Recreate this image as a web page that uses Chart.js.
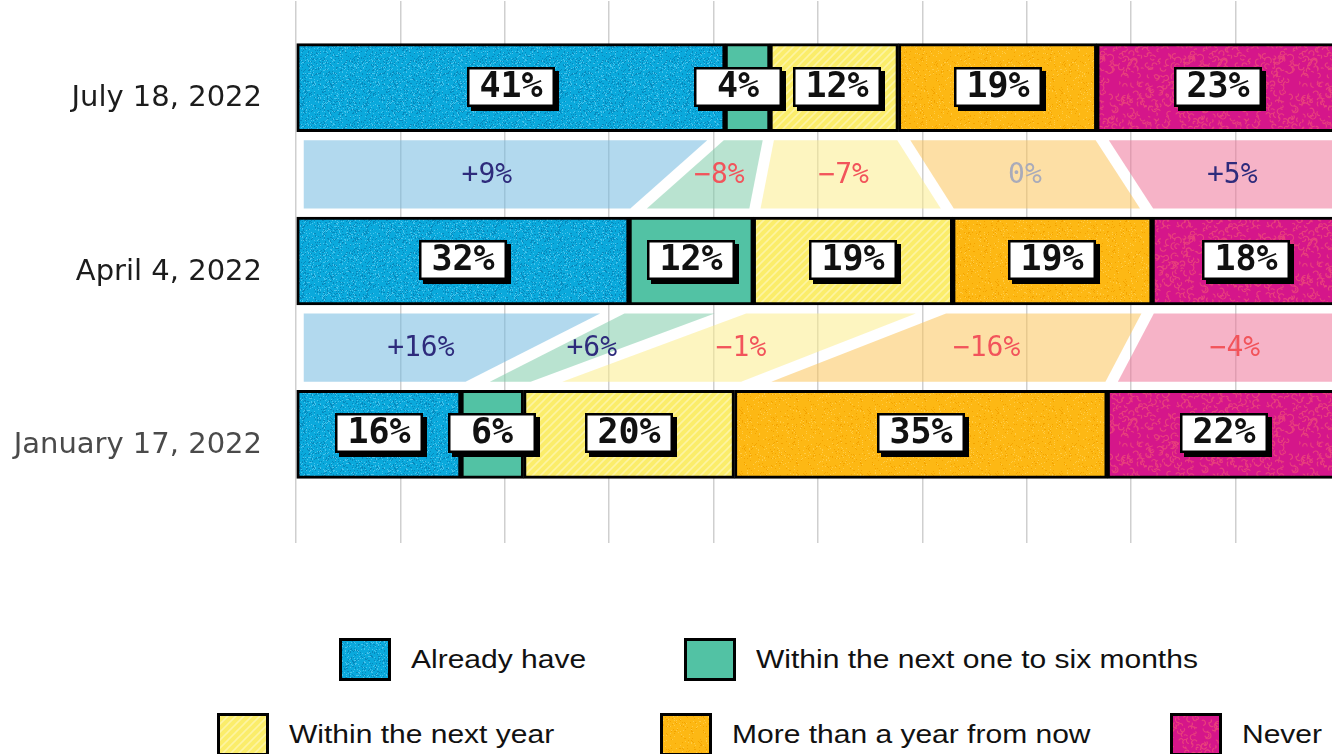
<!DOCTYPE html>
<html>
<head>
<meta charset="utf-8">
<script src="https://cdn.jsdelivr.net/npm/chart.js@4.4.1/dist/chart.umd.min.js"></script>
<style>
  html, body { margin: 0; padding: 0; background: #fff; }
  #wrap { position: relative; width: 1332px; height: 754px; overflow: hidden; }
  #chart { position: absolute; left: 0; top: 0; }
  .item { position: absolute; display: flex; align-items: center; }
  .sw { width: 46px; height: 37px; border: 3px solid #000; flex: none; }
  .txt {
    font-family: 'Liberation Sans', Arial, sans-serif; font-size: 25px; color: #111;
    margin-left: 20px; white-space: nowrap;
    transform: scaleX(1.2); transform-origin: left center;
  }
</style>
</head>
<body>
<div id="wrap">
  <canvas id="chart" width="1340" height="543" style="width:1340px;height:543px"></canvas>
  <div id="legend"></div>
</div>
<script>
// survey dates, top to bottom
const dates = ['July 18, 2022', 'April 4, 2022', 'January 17, 2022'];
const dateColors = ['#1c1c1c', '#1c1c1c', '#4a4a4a'];

const seriesNames = ['Already have', 'Within the next one to six months', 'Within the next year',
  'More than a year from now', 'Never'];

// share of respondents per date (bar lengths)
const alreadyHave = [41.1, 31.9, 15.8];
const oneToSixMonths = [4.3, 11.9, 6.0];
const nextYear = [12.3, 19.1, 20.2];
const moreThanAYear = [19.0, 19.1, 35.7];
const never = [23.3, 18.0, 22.3];

// printed labels in the boxes
const shownAlreadyHave = [41, 32, 16];
const shownOneToSixMonths = [4, 12, 6];
const shownNextYear = [12, 19, 20];
const shownMoreThanAYear = [19, 19, 35];
const shownNever = [23, 18, 22];

// changes between consecutive surveys, per answer
const changeJulyVsApril = [9, -8, -7, 0, 5];
const changeAprilVsJanuary = [16, 6, -1, -16, -4];

const xTicks = [0, 10, 20, 30, 40, 50, 60, 70, 80, 90, 100];

const seriesValues = [alreadyHave, oneToSixMonths, nextYear, moreThanAYear, never];
const seriesShown = [shownAlreadyHave, shownOneToSixMonths, shownNextYear, shownMoreThanAYear, shownNever];
const changes = [changeJulyVsApril, changeAprilVsJanuary];

const bandColors = ['rgba(115,186,224,0.55)', 'rgba(128,204,170,0.55)', 'rgba(251,237,140,0.55)',
  'rgba(251,197,91,0.55)', 'rgba(239,117,153,0.55)'];

// ---- textures
function rng(seed) {
  return function () {
    seed = seed + 0x6D2B79F5 | 0;
    let t = Math.imul(seed ^ seed >>> 15, 1 | seed);
    t = t + Math.imul(t ^ t >>> 7, 61 | t) ^ t;
    return ((t ^ t >>> 14) >>> 0) / 4294967296;
  };
}

function speckleTile(base, dots, seed) {
  const size = 64;
  const c = document.createElement('canvas');
  c.width = c.height = size;
  const g = c.getContext('2d');
  g.fillStyle = base;
  g.fillRect(0, 0, size, size);
  const r = rng(seed);
  dots.forEach(([color, n]) => {
    g.fillStyle = color;
    for (let i = 0; i < n; i++) g.fillRect(Math.floor(r() * size), Math.floor(r() * size), 1, 1);
  });
  return c;
}

function hatchTile(base, line) {
  const size = 8;
  const c = document.createElement('canvas');
  c.width = c.height = size;
  const g = c.getContext('2d');
  g.fillStyle = base;
  g.fillRect(0, 0, size, size);
  g.strokeStyle = line;
  g.lineWidth = 1.6;
  [[-2, 10, 10, -2], [-2, 2, 2, -2], [6, 10, 10, 6]].forEach(([a, b, cc, d]) => {
    g.beginPath(); g.moveTo(a, b); g.lineTo(cc, d); g.stroke();
  });
  return c;
}

function blobTile(base, line, seed) {
  const size = 90;
  const c = document.createElement('canvas');
  c.width = c.height = size;
  const g = c.getContext('2d');
  g.fillStyle = base;
  g.fillRect(0, 0, size, size);
  g.strokeStyle = line;
  g.lineWidth = 1.1;
  const r = rng(seed);
  for (let i = 0; i < 260; i++) {
    const x = r() * size, y = r() * size, rad = 1.2 + r() * 2.3;
    const a0 = r() * Math.PI * 2, a1 = a0 + 1.5 + r() * 3;
    for (const dx of [-size, 0, size]) for (const dy of [-size, 0, size]) {
      g.beginPath(); g.arc(x + dx, y + dy, rad, a0, a1); g.stroke();
    }
  }
  return c;
}

const tiles = [
  speckleTile('#0aa9dc', [['#0788bc', 700], ['#46c3ec', 450]], 7),
  speckleTile('#52c2a4', [], 1),
  hatchTile('#fbed6a', '#fdf4a2'),
  speckleTile('#fdb814', [['#f4a400', 250], ['#ffcb45', 200]], 11),
  blobTile('#d5168a', '#e8417c', 5)
];

const canvas = document.getElementById('chart');
const ctx0 = canvas.getContext('2d');
const patterns = tiles.map(t => ctx0.createPattern(t, 'repeat'));

function fmtChange(v) {
  if (v > 0) return '+' + v + '%';
  if (v < 0) return '\u2212' + Math.abs(v) + '%';
  return '0%';
}
function changeColor(v) {
  if (v > 0) return '#2e2b7c';
  if (v < 0) return '#f2545b';
  return '#a9abba';
}

// ---- connector bands between bars, with the change labels
const bandPlugin = {
  id: 'bands',
  beforeDatasetsDraw(chart) {
    const ctx = chart.ctx;
    const metas = chart.data.datasets.map((d, i) => chart.getDatasetMeta(i));
    const vGap = 8.5, sideGap = 5.5, leftInset = 7;
    for (let r = 0; r < dates.length - 1; r++) {
      const up0 = metas[0].data[r], low0 = metas[0].data[r + 1];
      const yU = up0.y + up0.height / 2;
      const yL = low0.y - low0.height / 2;
      const yT = yU + vGap, yB = yL - vGap;
      const bounds = [{ xu: up0.base, xl: low0.base }];
      metas.forEach(m => bounds.push({ xu: m.data[r].x, xl: m.data[r + 1].x }));
      const at = (b, y) => b.xu + (b.xl - b.xu) * (y - yU) / (yL - yU);
      const off = b => sideGap * Math.hypot(b.xl - b.xu, yL - yU) / (yL - yU);

      ctx.save();
      metas.forEach((m, k) => {
        const bl = bounds[k], br = bounds[k + 1];
        const ol = k === 0 ? leftInset : off(bl);
        const or = k === metas.length - 1 ? 0 : off(br);
        ctx.beginPath();
        ctx.moveTo(at(bl, yT) + ol, yT);
        ctx.lineTo(at(br, yT) - or, yT);
        ctx.lineTo(at(br, yB) - or, yB);
        ctx.lineTo(at(bl, yB) + ol, yB);
        ctx.closePath();
        ctx.fillStyle = bandColors[k];
        ctx.fill();
      });
      ctx.font = '28px "DejaVu Sans Mono", monospace';
      ctx.textAlign = 'center';
      ctx.textBaseline = 'middle';
      metas.forEach((m, k) => {
        const u = m.data[r], l = m.data[r + 1];
        const cx = ((u.base + u.x) / 2 + (l.base + l.x) / 2) / 2;
        const v = changes[r][k];
        ctx.fillStyle = changeColor(v);
        ctx.fillText(fmtChange(v), cx, (yU + yL) / 2 + 1);
      });
      ctx.restore();
    }
  }
};

// ---- white value boxes with a hard shadow
const boxPlugin = {
  id: 'boxes',
  afterDatasetsDraw(chart) {
    const ctx = chart.ctx;
    const metas = chart.data.datasets.map((d, i) => chart.getDatasetMeta(i));
    const boxW = 88, boxH = 40, gap = 11, shadow = 4;
    for (let r = 0; r < dates.length; r++) {
      const boxes = metas.map(m => {
        const el = m.data[r];
        return { cx: (el.base + el.x) / 2, y: el.y, w: el.x - el.base };
      });
      for (let pass = 0; pass < 4; pass++) {
        for (let k = 1; k < boxes.length; k++) {
          const d = boxes[k].cx - boxes[k - 1].cx;
          const need = boxW + gap;
          if (d < need) {
            const push = need - d, tot = boxes[k].w + boxes[k - 1].w;
            boxes[k - 1].cx -= push * boxes[k].w / tot;
            boxes[k].cx += push * boxes[k - 1].w / tot;
          }
        }
      }
      ctx.save();
      boxes.forEach((b, k) => {
        const x = Math.round(b.cx - boxW / 2), y = Math.round(b.y - boxH / 2 - 1);
        ctx.fillStyle = '#000';
        ctx.fillRect(x + shadow, y + shadow, boxW, boxH);
        ctx.fillRect(x, y, boxW, boxH);
        ctx.fillStyle = '#fff';
        ctx.fillRect(x + 2.5, y + 2.5, boxW - 5, boxH - 5);
        ctx.fillStyle = '#111';
        ctx.font = 'bold 35px "DejaVu Sans Mono", monospace';
        ctx.textAlign = 'center';
        ctx.textBaseline = 'middle';
        ctx.fillText(seriesShown[k][r] + '%', x + boxW / 2, y + boxH / 2 + 1);
      });
      ctx.restore();
    }
  }
};

new Chart(canvas, {
  type: 'bar',
  data: {
    labels: dates,
    datasets: seriesNames.map((name, k) => ({
      label: name,
      data: seriesValues[k],
      backgroundColor: patterns[k],
      borderColor: '#000',
      borderWidth: 3,
      borderSkipped: false,
      barThickness: 88,
      categoryPercentage: 1
    }))
  },
  options: {
    indexAxis: 'y',
    responsive: false,
    devicePixelRatio: 1,
    animation: false,
    layout: { padding: { top: 1, left: 0, right: 0, bottom: 0 } },
    scales: {
      x: {
        type: 'linear',
        stacked: true,
        min: 0,
        max: 100,
        afterBuildTicks: scale => { scale.ticks = xTicks.map(v => ({ value: v })); },
        afterFit: scale => { scale.height = 22; scale.paddingLeft = 0; scale.paddingRight = 0; },
        ticks: { display: false },
        grid: { color: '#cfcfcf', lineWidth: 1.5, drawTicks: true, tickLength: 22 },
        border: { display: false }
      },
      y: {
        stacked: true,
        afterFit: scale => { scale.width = 296; scale.paddingTop = 0; scale.paddingBottom = 0; },
        ticks: {
          padding: 34,
          labelOffset: 11,
          color: c => dateColors[c.index],
          font: { family: '"DejaVu Sans", sans-serif', size: 29 }
        },
        grid: { display: false, drawTicks: false },
        border: { display: false }
      }
    },
    plugins: {
      legend: { display: false },
      tooltip: { enabled: false }
    }
  },
  plugins: [bandPlugin, boxPlugin]
});

// ---- legend, two centred rows as in the original
const legendSlots = [[339, 638], [684, 638], [217, 713], [660, 713], [1170, 713]];
const legend = document.getElementById('legend');
seriesNames.forEach((name, k) => {
  const item = document.createElement('div');
  item.className = 'item';
  item.style.left = legendSlots[k][0] + 'px';
  item.style.top = legendSlots[k][1] + 'px';
  const sw = document.createElement('div');
  sw.className = 'sw';
  sw.style.backgroundImage = 'url(' + tiles[k].toDataURL() + ')';
  const txt = document.createElement('span');
  txt.className = 'txt';
  txt.textContent = name;
  item.appendChild(sw);
  item.appendChild(txt);
  legend.appendChild(item);
});
</script>
</body>
</html>
